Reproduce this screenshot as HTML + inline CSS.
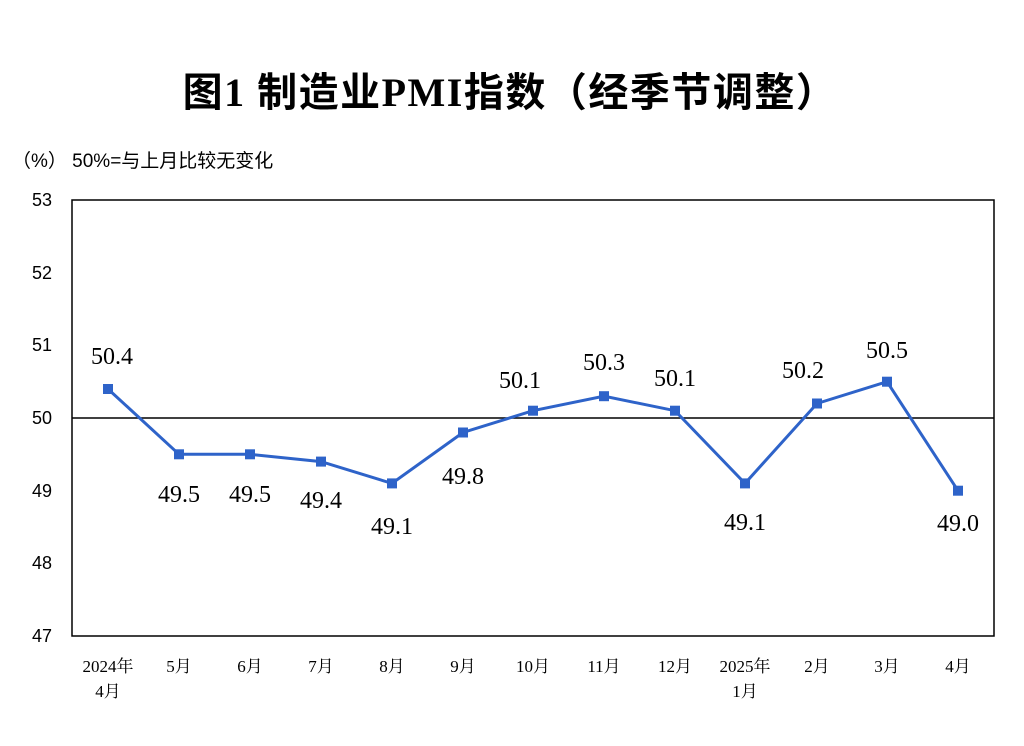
<!DOCTYPE html>
<html><head><meta charset="utf-8"><style>
html,body{margin:0;padding:0;background:#fff;width:1024px;height:746px;overflow:hidden}
</style></head><body>
<svg width="1024" height="746" xmlns="http://www.w3.org/2000/svg">
<text x="510" y="106" text-anchor="middle" font-family="'Liberation Serif','Noto Sans CJK SC',sans-serif" font-weight="bold" font-size="40" letter-spacing="1.5" fill="#000">图1  制造业PMI指数（经季节调整）</text>
<text x="12" y="167" font-family="'Liberation Sans','Noto Sans CJK SC',sans-serif" font-size="19" fill="#000">（%）  50%=与上月比较无变化</text>
<rect x="72" y="200" width="922" height="436" fill="none" stroke="#000" stroke-width="1.5"/>
<line x1="72" y1="418" x2="994" y2="418" stroke="#000" stroke-width="1.5"/>
<g font-family="'Liberation Sans',sans-serif" font-size="18" fill="#000" text-anchor="end">
<text x="52" y="206">53</text><text x="52" y="279">52</text><text x="52" y="351">51</text><text x="52" y="424">50</text><text x="52" y="497">49</text><text x="52" y="569">48</text><text x="52" y="642">47</text>
</g>
<g font-family="'Liberation Serif','Noto Serif CJK SC',serif" font-size="17" fill="#000" text-anchor="middle">
<text x="108" y="672">2024年</text><text x="108" y="697">4月</text>
<text x="179" y="672">5月</text><text x="250" y="672">6月</text><text x="321" y="672">7月</text><text x="392" y="672">8月</text><text x="463" y="672">9月</text><text x="533" y="672">10月</text><text x="604" y="672">11月</text><text x="675" y="672">12月</text>
<text x="745" y="672">2025年</text><text x="745" y="697">1月</text>
<text x="817" y="672">2月</text><text x="887" y="672">3月</text><text x="958" y="672">4月</text>
</g>
<polyline fill="none" stroke="#2e63c9" stroke-width="3" points="108,389 179,454.3 250,454.3 321,461.6 392,483.4 463,432.5 533,410.7 604,396.2 675,410.7 745,483.4 817,403.5 887,381.7 958,490.7"/>
<g fill="#2e63c9">
<rect x="103" y="384" width="10" height="10"/><rect x="174" y="449.3" width="10" height="10"/><rect x="245" y="449.3" width="10" height="10"/><rect x="316" y="456.6" width="10" height="10"/><rect x="387" y="478.4" width="10" height="10"/><rect x="458" y="427.5" width="10" height="10"/><rect x="528" y="405.7" width="10" height="10"/><rect x="599" y="391.2" width="10" height="10"/><rect x="670" y="405.7" width="10" height="10"/><rect x="740" y="478.4" width="10" height="10"/><rect x="812" y="398.5" width="10" height="10"/><rect x="882" y="376.7" width="10" height="10"/><rect x="953" y="485.7" width="10" height="10"/>
</g>
<g font-family="'Liberation Serif',serif" font-size="24" fill="#000" text-anchor="middle">
<text x="112" y="364">50.4</text><text x="179" y="502">49.5</text><text x="250" y="502">49.5</text><text x="321" y="508">49.4</text><text x="392" y="534">49.1</text><text x="463" y="484">49.8</text><text x="520" y="388">50.1</text><text x="604" y="370">50.3</text><text x="675" y="386">50.1</text><text x="745" y="530">49.1</text><text x="803" y="378">50.2</text><text x="887" y="358">50.5</text><text x="958" y="531">49.0</text>
</g>
</svg>
</body></html>
